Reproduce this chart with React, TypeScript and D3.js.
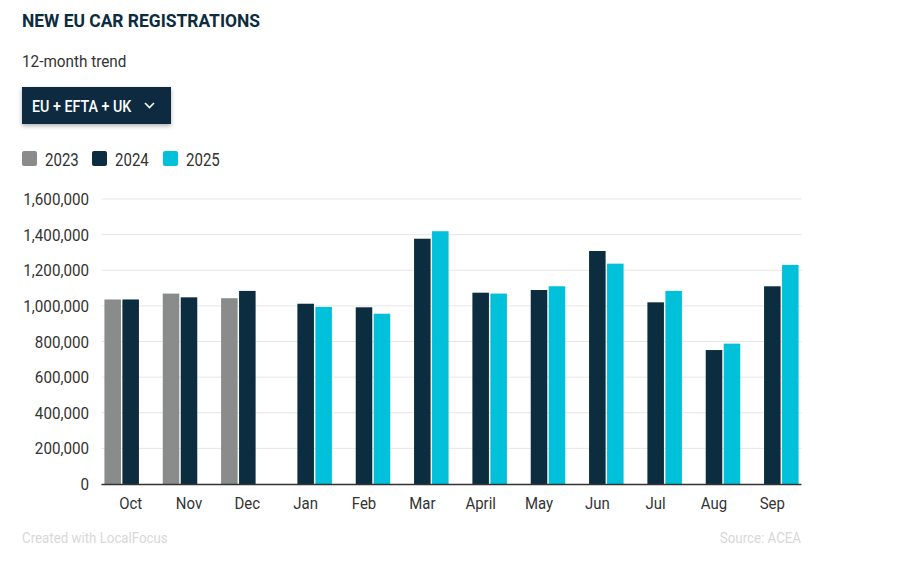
import * as React from 'react';
import * as d3 from 'd3';

const months = ['Oct', 'Nov', 'Dec', 'Jan', 'Feb', 'Mar', 'April', 'May', 'Jun', 'Jul', 'Aug', 'Sep'];
const years = ['2023', '2024', '2025'];

// null = no bar for that month
const values2023: Array<number | null> = [1036000, 1069000, 1043000, null, null, null, null, null, null, null, null, null];
const values2024: Array<number | null> = [1036000, 1048000, 1084000, 1012000, 992000, 1377000, 1074000, 1089000, 1308000, 1020000, 752000, 1110000];
const values2025: Array<number | null> = [null, null, null, 994000, 956000, 1419000, 1069000, 1110000, 1237000, 1084000, 788000, 1230000];

const yTicks = [0, 200000, 400000, 600000, 800000, 1000000, 1200000, 1400000, 1600000];

const colors: { [k: string]: string } = {
    '2023': '#8a8c8c',
    '2024': '#0c2c40',
    '2025': '#00c1d9'
};

const plot = { left: 101.5, right: 801.5, top: 199, bottom: 484 };
const navy = '#0c2c40';
const font = 'Roboto, "Noto Sans", sans-serif';

// narrow text, standing in for a condensed face
function NText(props: { x: number, y: number, size: number, sx?: number, anchor?: string, fill?: string, weight?: number, children: React.ReactNode }) {
    const sx = props.sx || 0.88;
    return (
        <text transform={`translate(${props.x},${props.y}) scale(${sx},1)`}
            fontSize={props.size}
            fontWeight={props.weight || 400}
            fill={props.fill || '#333'}
            textAnchor={props.anchor || 'start'}>
            {props.children}
        </text>
    );
}

export default function App() {
    const series: { [k: string]: Array<number | null> } = {
        '2023': values2023,
        '2024': values2024,
        '2025': values2025
    };

    const x0 = d3.scaleBand<string>()
        .domain(months)
        .range([plot.left, plot.right])
        .paddingInner(0.1)
        .paddingOuter(0.05);

    const x1 = d3.scaleBand<string>()
        .domain(years)
        .range([0, x0.bandwidth()])
        .paddingInner(0.08);

    const y = d3.scaleLinear()
        .domain([0, 1600000])
        .range([plot.bottom, plot.top]);

    const fmt = d3.format(',');

    const bars: Array<{ key: string, x: number, y: number, w: number, h: number, fill: string }> = [];
    months.forEach((m, i) => {
        years.forEach(yr => {
            const v = series[yr][i];
            if (v == null) return;
            bars.push({
                key: m + yr,
                x: (x0(m) || 0) + (x1(yr) || 0),
                y: y(v),
                w: x1.bandwidth(),
                h: y(0) - y(v),
                fill: colors[yr]
            });
        });
    });

    const legendX = [22, 92, 163];

    return (
        <div style={{ position: 'absolute', left: 0, top: 0 }}>
            <svg width={900} height={564} style={{ display: 'block', background: '#fff' }} fontFamily={font}>
                <defs>
                    <filter id="shadow" x="-10%" y="-20%" width="130%" height="160%">
                        <feDropShadow dx="0" dy="2" stdDeviation="2" floodColor="#000" floodOpacity="0.3" />
                    </filter>
                </defs>

                <text x={22} y={27} fontSize={19} fontWeight={700} fill={navy}
                    textLength={238} lengthAdjust="spacingAndGlyphs">NEW EU CAR REGISTRATIONS</text>
                <NText x={22} y={67} size={17} sx={0.9}>12-month trend</NText>

                <rect x={22} y={87} width={149} height={37} fill={navy} filter="url(#shadow)" />
                <NText x={32} y={112} size={17} sx={0.84} weight={500} fill="#fff">EU + EFTA + UK</NText>
                <path d="M145,103 L149.5,107.5 L154,103" fill="none" stroke="#fff" strokeWidth={1.6} />

                {years.map((yr, i) => (
                    <g key={yr}>
                        <rect x={legendX[i]} y={151} width={15} height={15} rx={2} fill={colors[yr]} />
                        <NText x={legendX[i] + 23} y={166} size={17.5} sx={0.86}>{yr}</NText>
                    </g>
                ))}

                {yTicks.map(t => (
                    <g key={t}>
                        {t > 0 && <line x1={plot.left} x2={plot.right} y1={y(t)} y2={y(t)} stroke="#e6e6e6" strokeWidth={1} />}
                        <NText x={89} y={y(t) + 6} size={16.5} sx={0.92} anchor="end">{fmt(t)}</NText>
                    </g>
                ))}

                {bars.map(b => (
                    <rect key={b.key} x={b.x} y={b.y} width={b.w} height={b.h} fill={b.fill} />
                ))}

                <line x1={plot.left} x2={plot.right} y1={plot.bottom + 0.5} y2={plot.bottom + 0.5} stroke="#333" strokeWidth={1.5} />

                {months.map(m => (
                    <NText key={m} x={(x0(m) || 0) + x0.bandwidth() / 2} y={508.5} size={17} anchor="middle">{m}</NText>
                ))}

                <NText x={22} y={543} size={14} sx={0.95} fill="#d8d8d8">Created with LocalFocus</NText>
                <NText x={801} y={543} size={14} sx={0.95} fill="#d8d8d8" anchor="end">Source:  ACEA</NText>
            </svg>
        </div>
    );
}
